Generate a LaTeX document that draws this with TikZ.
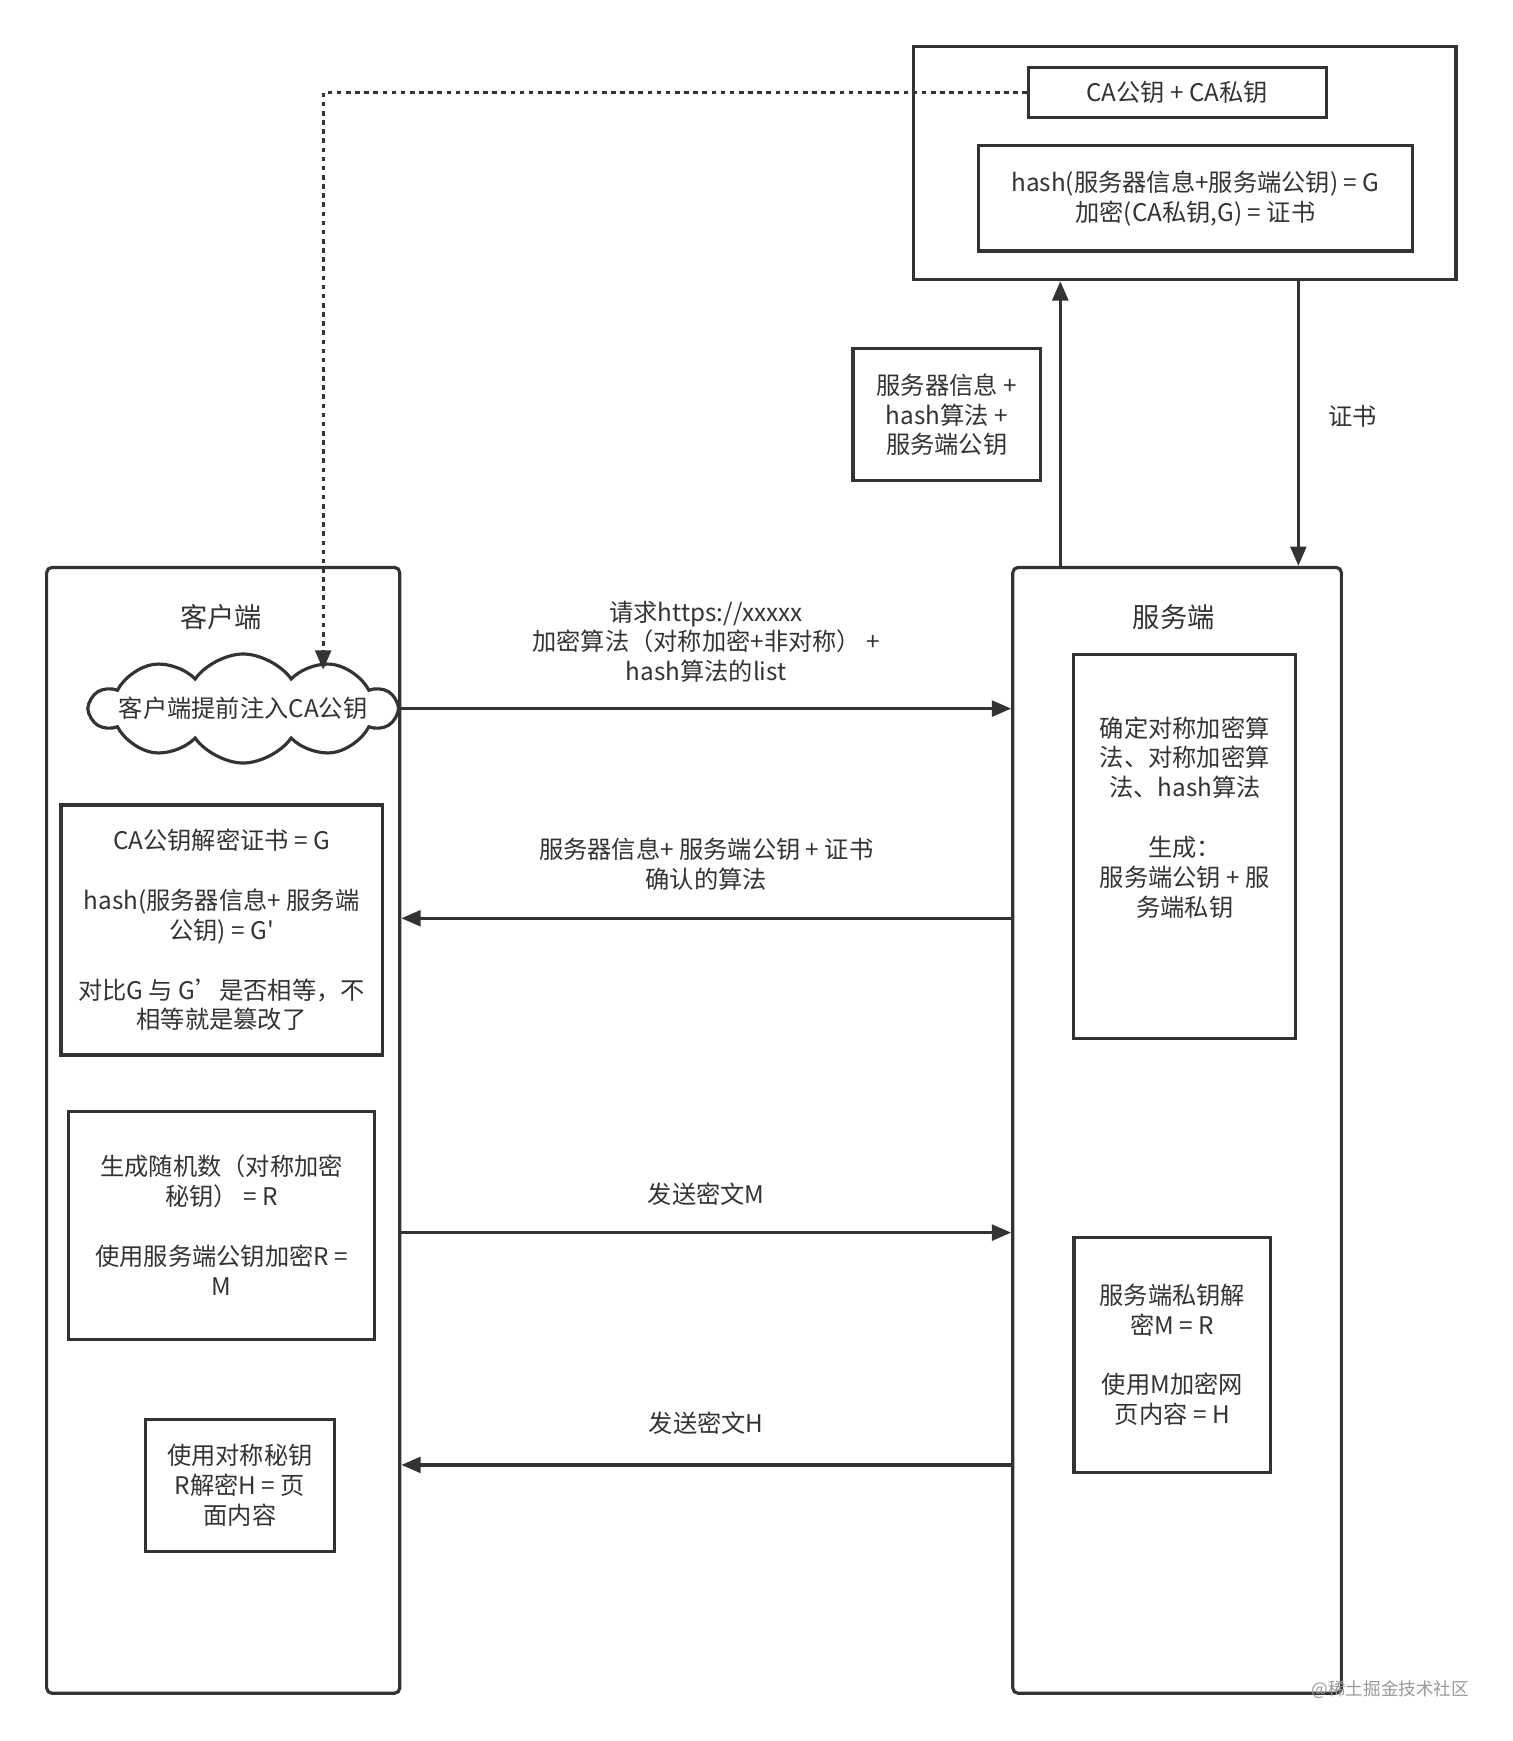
\documentclass[tikz,border=0pt]{standalone}
\usepackage{fontspec}
\newfontfamily\cjk{Noto Sans CJK SC}
\usetikzlibrary{arrows.meta,shapes.symbols}
\definecolor{ink}{HTML}{333333}
\tikzset{
  lane/.style={draw=ink,line width=1.8pt,rounded corners=3pt},
  panel/.style={draw=ink,line width=1.8pt,align=center,inner sep=2pt,text=ink},
  note/.style={text=ink,align=center},
  title/.style={note,font=\cjk\fontsize{15.5pt}{18pt}\selectfont},
  flow/.style={draw=ink,line width=1.8pt,-{Triangle[length=11pt,width=9pt]}},
  hint/.style={flow,dash pattern=on 2.6pt off 2.6pt}
}

\begin{document}
\begin{tikzpicture}[every node/.style={font=\cjk\fontsize{13.8pt}{17pt}\selectfont}]
  \useasboundingbox (0,0) rectangle (30.24,-34.81);
  \node[panel,minimum width=10.84cm,minimum height=4.66cm] (ca) at (23.69,-3.26) {};
  \node[panel,minimum width=5.95cm,minimum height=1.0cm] (cakeys) at (23.54,-1.854) {CA公钥 + CA私钥};
  \node[panel,minimum width=8.68cm,minimum height=2.11cm] (sign) at (23.90,-3.963)
    {hash(服务器信息+服务端公钥) = G\\加密(CA私钥,G) = 证书};

  \node[lane,minimum width=7.06cm,minimum height=22.51cm] (client) at (4.463,-22.60) {};
  \node[lane,minimum width=6.57cm,minimum height=22.51cm] (server) at (23.535,-22.60) {};
  \node[title] (clienttitle) at (4.418,-12.345) {客户端};
  \node[title] (servertitle) at (23.47,-12.345) {服务端};

  \node[cloud,draw=ink,line width=1.8pt,fill=white,cloud puffs=10,cloud puff arc=110,
    minimum width=6.11cm,minimum height=2.18cm,inner sep=0pt,
    label={[note]center:客户端提前注入CA公钥}] (inject) at (4.862,-14.166) {};
  \node[panel,minimum width=6.42cm,minimum height=5.0cm] (verify) at (4.430,-18.595)
    {CA公钥解密证书 = G\\[17pt]hash(服务器信息+ 服务端\\公钥) = G'\\[17pt]对比G 与 G’是否相等，不\\相等就是篡改了};
  \node[panel,minimum width=6.11cm,minimum height=4.55cm] (random) at (4.430,-24.50)
    {生成随机数（对称加密\\秘钥） = R\\[17pt]使用服务端公钥加密R =\\M};
  \node[panel,minimum width=3.77cm,minimum height=2.64cm] (page) at (4.796,-29.70)
    {使用对称秘钥\\R解密H = 页\\面内容};

  \node[panel,minimum width=4.44cm,minimum height=7.68cm] (choose) at (23.69,-16.92)
    {确定对称加密算\\法、对称加密算\\法、hash算法\\[17pt]生成：\\服务端公钥 + 服\\务端私钥\\[17pt]\mbox{}};
  \node[panel,minimum width=3.93cm,minimum height=4.71cm] (unlock) at (23.44,-27.09)
    {服务端私钥解\\密M = R\\[17pt]使用M加密网\\页内容 = H};
  \node[panel,minimum width=3.75cm,minimum height=2.64cm] (submit) at (18.93,-8.293)
    {服务器信息 +\\hash算法 +\\服务端公钥};

  \coordinate (upfoot) at ([xshift=-2.335cm]server.north);
  \coordinate (downfoot) at ([xshift=2.425cm]server.north);
  \draw[flow] (upfoot) -- (upfoot |- ca.south);
  \draw[flow] (downfoot |- ca.south) -- (downfoot);
  \node[note] (certlabel) at (27.04,-8.326) {证书};

  \coordinate (cloudtop) at (6.461,-13.39);
  \draw[hint] (cakeys.west) -| (cloudtop);

  \draw[flow] (inject.east) -- (inject.east -| server.west);
  \node[note] (hello) at (14.12,-12.83) {请求https://xxxxx\\加密算法（对称加密+非对称） +\\hash算法的list};
  \draw[flow] ([yshift=4.24cm]server.west) -- ([yshift=4.24cm]client.east);
  \node[note] (reply) at (14.12,-17.285) {服务器信息+ 服务端公钥 + 证书\\确认的算法};
  \draw[flow] ([yshift=-2.045cm]client.east) -- ([yshift=-2.045cm]server.west);
  \node[note] (sendm) at (14.12,-23.87) {发送密文M};
  \draw[flow] ([yshift=-6.69cm]server.west) -- ([yshift=-6.69cm]client.east);
  \node[note] (sendh) at (14.12,-28.46) {发送密文H};

  \node[text=black!40,font=\cjk\fontsize{10pt}{12pt}\selectfont] (mark) at (27.80,-33.79) {@稀土掘金技术社区};
\end{tikzpicture}
\end{document}
